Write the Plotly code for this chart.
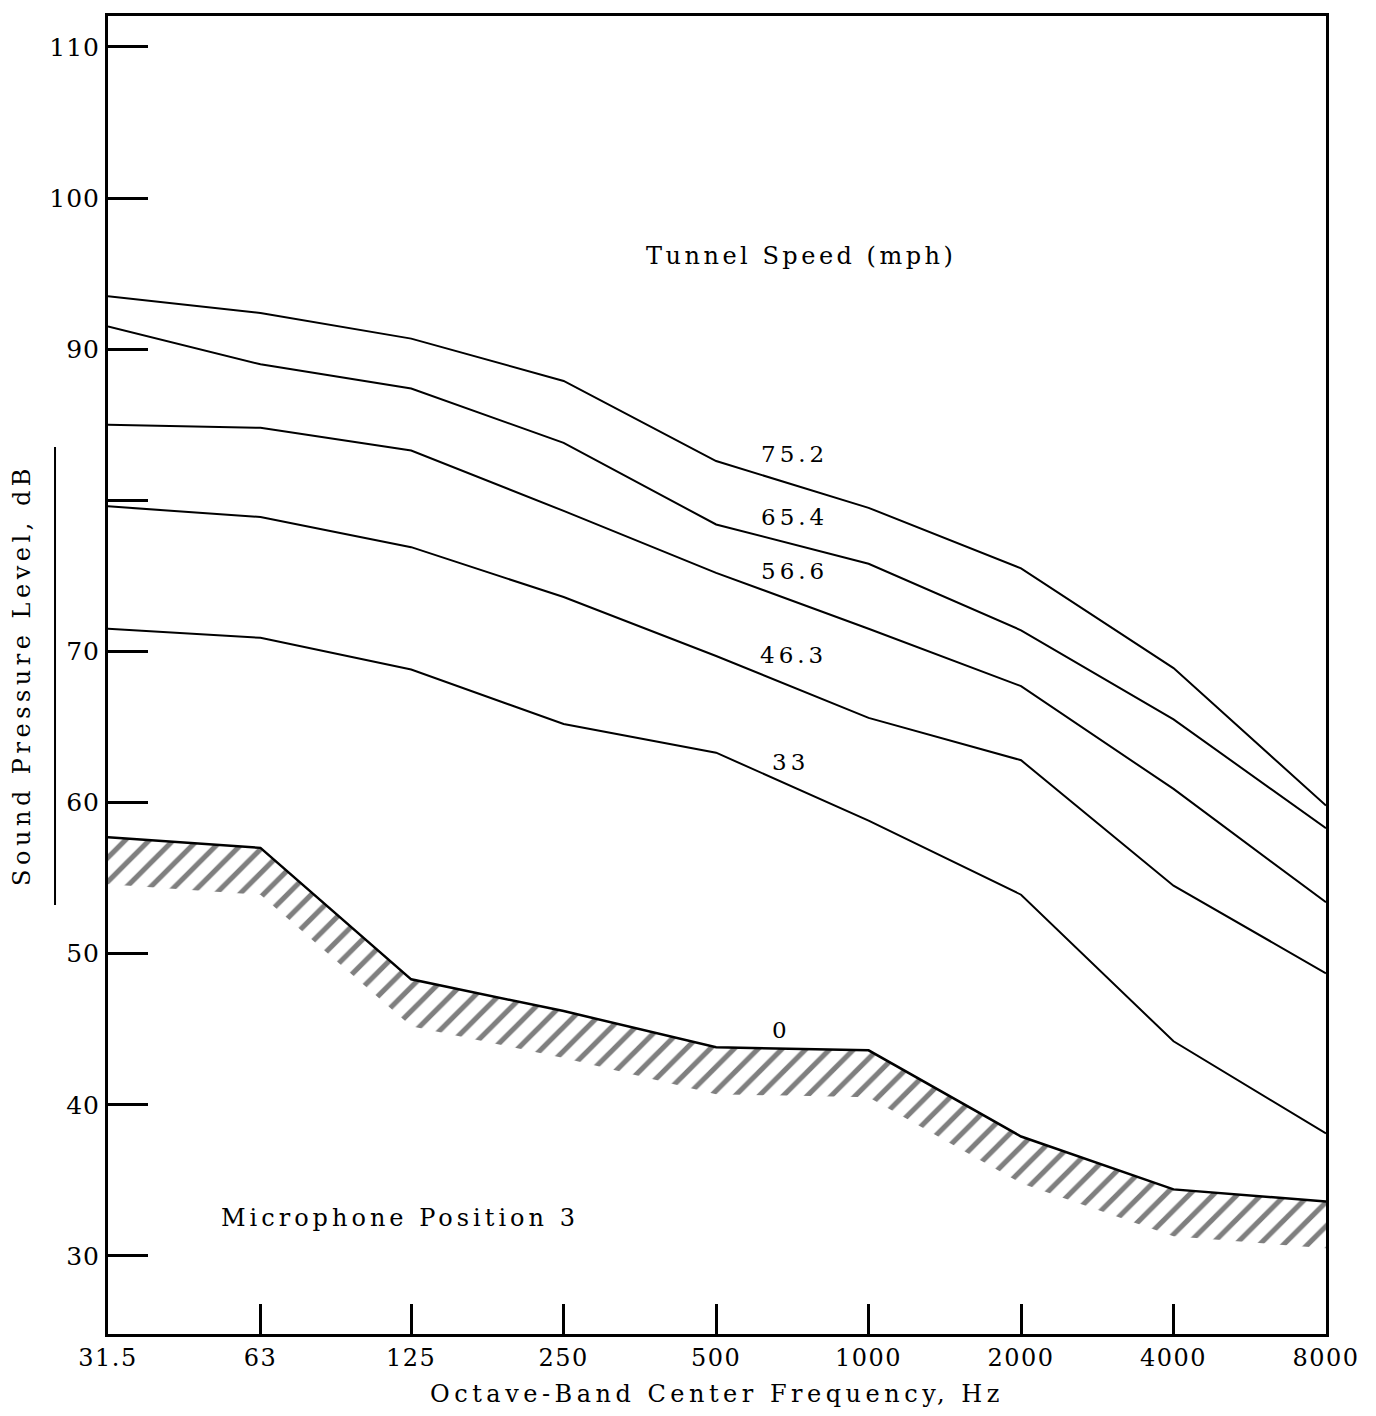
import numpy as np
import plotly.graph_objects as go

# ---- data ----
freq_labels = ["31.5", "63", "125", "250", "500", "1000", "2000", "4000", "8000"]
freqs = [31.5, 63, 125, 250, 500, 1000, 2000, 4000, 8000]

spl_75_2 = [93.5, 92.4, 90.7, 87.9, 82.6, 79.5, 75.5, 68.9, 59.8]
spl_65_4 = [91.5, 89.0, 87.4, 83.8, 78.4, 75.8, 71.4, 65.5, 58.3]
spl_56_6 = [85.0, 84.8, 83.3, 79.3, 75.2, 71.5, 67.7, 60.9, 53.4]
spl_46_3 = [79.6, 78.9, 76.9, 73.6, 69.7, 65.6, 62.8, 54.5, 48.7]
spl_33 = [71.5, 70.9, 68.8, 65.2, 63.3, 58.8, 53.9, 44.2, 38.1]
spl_0 = [57.7, 57.0, 48.3, 46.2, 43.8, 43.6, 37.9, 34.4, 33.6]

speed_labels = ["75.2", "65.4", "56.6", "46.3", "33", "0"]
y_tickvals = [30, 40, 50, 60, 70, 80, 90, 100, 110]
y_ticktext = ["30", "40", "50", "60", "70", "", "90", "100", "110"]

HATCH_DEPTH = 3.1  # dB thickness of hatched band under the 0 mph curve

FONT = "DejaVu Serif"


def sp(text, ls):
    return f'<span style="letter-spacing:{ls}px">{text}</span>'


fig = go.Figure()

# hatched band under background (0 mph) curve
band_bottom = [v - HATCH_DEPTH for v in spl_0]
fig.add_trace(go.Scatter(x=freqs, y=band_bottom, mode="lines",
                         line=dict(width=0, color="rgba(0,0,0,0)"),
                         hoverinfo="skip", showlegend=False))
fig.add_trace(go.Scatter(x=freqs, y=spl_0, mode="lines",
                         line=dict(color="black", width=2.5),
                         fill="tonexty", fillcolor="rgba(0,0,0,0)",
                         fillpattern=dict(shape="/", fgcolor="black", bgcolor="white",
                                          size=17, solidity=0.3),
                         showlegend=False))

for ys in [spl_75_2, spl_65_4, spl_56_6, spl_46_3, spl_33]:
    fig.add_trace(go.Scatter(x=freqs, y=ys, mode="lines",
                             line=dict(color="black", width=2), showlegend=False))

# ---- annotations (positions given in reference pixels, converted to data) ----
X0_PX, OCT_PX = 108, 152.25


def xpos(px):
    return np.log10(31.5) + (px - X0_PX) / OCT_PX * np.log10(2)


def ypos(px):
    return 30 + (1256 - px) / 15.1


label_pos = [(794, 455), (794, 518), (794, 572), (793, 656), (790, 762), (781, 1030)]
for text, (px, py) in zip(speed_labels, label_pos):
    fig.add_annotation(x=xpos(px), y=ypos(py), text=sp(text, 4), showarrow=False,
                       font=dict(family=FONT, size=23, color="black"))

fig.add_annotation(x=xpos(800), y=ypos(257), text=sp("Tunnel Speed (mph)", 3.5),
                   showarrow=False, font=dict(family=FONT, size=24, color="black"))
fig.add_annotation(x=xpos(400), y=ypos(1218), text=sp("Microphone Position 3", 4),
                   showarrow=False, font=dict(family=FONT, size=24, color="black"))

# decorative line beside y title
fig.add_shape(type="line", xref="paper", yref="paper",
              x0=-0.0435, x1=-0.0435, y0=0.3255, y1=0.673,
              line=dict(color="black", width=2))

fig.update_layout(
    width=1360, height=1400,
    margin=dict(l=100, r=42, t=8, b=74),
    paper_bgcolor="white", plot_bgcolor="white",
    font=dict(family=FONT, size=24, color="black"),
)
fig.update_xaxes(
    type="log",
    range=[np.log10(31.5), np.log10(8000)],
    tickvals=freqs, ticktext=[sp(t, 1.5) for t in freq_labels],
    ticks="inside", ticklen=30, tickwidth=3, tickcolor="black",
    showgrid=False, zeroline=False, automargin=False,
    showline=True, linecolor="black", linewidth=3, mirror=True,
    tickfont=dict(family=FONT, size=24),
    title=dict(text=sp("Octave-Band Center Frequency, Hz", 4.5),
               font=dict(family=FONT, size=24), standoff=18),
)
fig.update_yaxes(
    range=[24.83, 112.05],
    tickvals=y_tickvals, ticktext=[sp(t, 1) for t in y_ticktext],
    ticks="inside", ticklen=40, tickwidth=3, tickcolor="black",
    showgrid=False, zeroline=False, automargin=False,
    showline=True, linecolor="black", linewidth=3, mirror=True,
    tickfont=dict(family=FONT, size=25),
    title=dict(text=sp("Sound Pressure Level, dB", 4.5),
               font=dict(family=FONT, size=24), standoff=16),
)

fig.write_html("out.html")
